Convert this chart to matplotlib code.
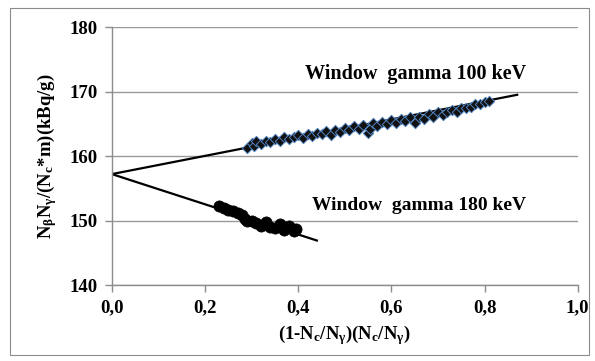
import matplotlib
matplotlib.use("Agg")
import matplotlib.pyplot as plt
from matplotlib.patches import Rectangle

# Window gamma 100 keV (diamonds)
x_100 = [0.29, 0.30, 0.305, 0.31, 0.32, 0.33, 0.34, 0.35, 0.36, 0.37, 0.38, 0.39,
         0.40, 0.41, 0.42, 0.43, 0.44, 0.45, 0.46, 0.47, 0.48, 0.49, 0.50, 0.51,
         0.52, 0.53, 0.54, 0.55, 0.555, 0.56, 0.57, 0.58, 0.59, 0.60, 0.61, 0.62,
         0.63, 0.64, 0.65, 0.66, 0.67, 0.68, 0.69, 0.70, 0.71, 0.72, 0.73, 0.74,
         0.75, 0.76, 0.77, 0.78, 0.79, 0.80, 0.81]
y_100 = [161.2, 162.1, 161.6, 162.3, 161.8, 162.4, 162.2, 162.7, 162.3, 162.9, 162.6, 163.0,
         163.3, 162.8, 163.4, 163.1, 163.6, 163.4, 163.9, 163.2, 164.1, 163.8, 164.3, 164.0,
         164.6, 164.2, 164.8, 163.6, 164.2, 165.1, 164.7, 165.3, 164.9, 165.6, 165.2, 165.8,
         165.4, 166.0, 165.1, 166.1, 165.8, 166.5, 166.0, 166.9, 166.3, 166.8, 167.2, 166.9,
         167.5, 167.4, 167.6, 168.0, 168.1, 168.4, 168.6]

# Window gamma 180 keV (circles)
x_180 = [0.23, 0.24, 0.25, 0.26, 0.27, 0.28, 0.285, 0.29, 0.30, 0.31, 0.32, 0.33,
         0.34, 0.35, 0.36, 0.37, 0.38, 0.39, 0.395]
y_180 = [152.3, 152.0, 151.6, 151.4, 151.1, 150.8, 150.2, 149.9, 150.0, 149.6, 149.2, 149.8,
         149.0, 148.8, 149.4, 148.5, 149.1, 148.3, 148.7]

# fitted lines (end points)
fit_100_x = [0.0, 0.87]
fit_100_y = [157.2, 169.5]
fit_180_x = [0.0, 0.44]
fit_180_y = [157.2, 146.9]

x_ticks = [0.0, 0.2, 0.4, 0.6, 0.8, 1.0]
x_tick_labels = ['0,0', '0,2', '0,4', '0,6', '0,8', '1,0']
y_ticks = [140, 150, 160, 170, 180]

plt.rcParams['font.family'] = ['Liberation Serif', 'DejaVu Serif']
plt.rcParams['font.weight'] = 'bold'
plt.rcParams['mathtext.fontset'] = 'custom'
plt.rcParams['mathtext.rm'] = 'Liberation Serif:bold'
plt.rcParams['mathtext.it'] = 'Liberation Serif:bold'
plt.rcParams['mathtext.bf'] = 'Liberation Serif:bold'

fig = plt.figure(figsize=(5.95, 3.61), dpi=100)
ax = fig.add_axes([0.188, 0.2105, 0.783, 0.7145])

# outer chart border
fig.patches.append(Rectangle((10 / 595, 6 / 361), 579 / 595, 347 / 361,
                             transform=fig.transFigure, fill=False,
                             edgecolor='#8c8c8c', linewidth=0.8))

ax.set_xlim(0, 1.0)
ax.set_ylim(140, 180)
ax.set_yticks(y_ticks)
ax.set_xticks(x_ticks, x_tick_labels)
ax.yaxis.grid(True, color='#9a9a9a', linewidth=1.0)
ax.set_axisbelow(True)

for spine in ['top', 'right']:
    ax.spines[spine].set_visible(False)
for spine in ['bottom', 'left']:
    ax.spines[spine].set_color('#8c8c8c')
    ax.spines[spine].set_linewidth(1.0)
ax.tick_params(axis='both', colors='#8c8c8c', length=5, width=1.0, labelsize=13.5,
               labelcolor='black')
ax.tick_params(axis='x', pad=5)
ax.tick_params(axis='y', pad=5)

# Fitted lines
ax.plot(fit_100_x, fit_100_y, color='black', linewidth=1.6, zorder=2)
ax.plot(fit_180_x, fit_180_y, color='black', linewidth=1.6, zorder=2)

# Data
ax.scatter(x_100, y_100, marker='D', s=28, color='#111111', edgecolors='#4f81bd',
           linewidths=0.7, zorder=3)
ax.scatter(x_180, y_180, marker='o', s=65, color='black', edgecolors='black',
           linewidths=0.5, zorder=3)

ax.text(0.652, 172.8, 'Window  gamma 100 keV', fontsize=14.5, fontweight='bold',
        ha='center', va='center')
ax.text(0.66, 152.4, 'Window  gamma 180 keV', fontsize=14, fontweight='bold',
        ha='center', va='center')

ax.set_xlabel(r'(1-N$_c$/N$_\gamma$)(N$_c$/N$_\gamma$)', fontsize=13.5, fontweight='bold',
              labelpad=5)
ax.set_ylabel(r'N$_\beta$N$_\gamma$/(N$_c$*m)(kBq/g)', fontsize=13.5, fontweight='bold',
              labelpad=8)

fig.savefig('out.png', dpi=100)
